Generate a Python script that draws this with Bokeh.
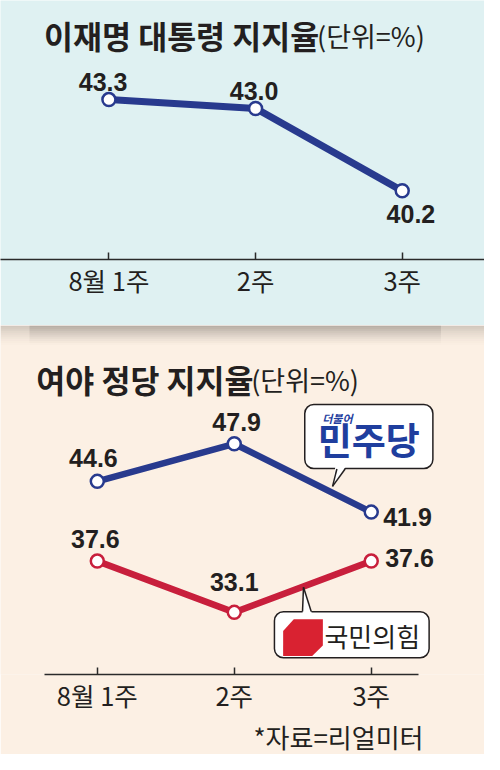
from bokeh.plotting import figure
from bokeh.layouts import column
from bokeh.models import Label, FixedTicker, ColumnDataSource, Range1d, Title
from bokeh.core.properties import value
from bokeh.embed import file_html
from bokeh.resources import INLINE

# ---------------- data ----------------
weeks = ["8월 1주", "2주", "3주"]
president = [43.3, 43.0, 40.2]
dem = [44.6, 47.9, 41.9]
ppp = [37.6, 33.1, 37.6]

title_top = "이재명 대통령 지지율"
title_bottom = "여야 정당 지지율"
unit_text = "(단위=%)"
source_note = "*자료=리얼미터"
dem_prefix = "더불어"
dem_name = "민주당"
ppp_name = "국민의힘"

# ---------------- style ----------------
TOP_BG = "#dff1f2"
BOT_BG = "#fcf0e4"
NAVY = "#283a8e"
DEM_BLUE = "#1f3e9e"
RED = "#c81f3c"
PPP_RED = "#d92231"
INK = "#231f20"
CJK = "Noto Sans CJK KR"
NUM = "Liberation Sans"

W, H = 484, 754
SX, SY = W / 500.0, H / 770.0
TOP_H = round(332 * SY)          # top panel ends at reference y=332
BOT_H = H - TOP_H
TOP_FRAME = round(264 * SY)      # axis line of top panel
BOT_FRAME = round((692 - 332) * SY)

xs = list(range(len(weeks)))


# reference-layout -> data helpers for annotation placement
def tx(px):
    return (px - 112) / 151.5


def ty(py):
    return 43.3 - (py - 101) / 30.0


def bx(px):
    return (px - 100) / 141.5


def by(py):
    return 47.9 - (py - 454) / 11.75


def style_fig(p, bg):
    p.background_fill_color = bg
    p.border_fill_color = bg
    p.outline_line_color = None
    p.xgrid.visible = False
    p.ygrid.visible = False
    ax = p.xaxis[0]
    ax.ticker = FixedTicker(ticks=xs)
    ax.major_label_overrides = {i: w for i, w in enumerate(weeks)}
    ax.axis_line_color = "#2a2a2a"
    ax.axis_line_width = 1.5
    ax.major_tick_line_color = "#2a2a2a"
    ax.major_tick_line_width = 1.5
    ax.major_tick_in = 7
    ax.major_tick_out = 0
    ax.minor_tick_line_color = None
    ax.major_label_text_font = CJK
    ax.major_label_text_font_size = "25.5px"
    ax.major_label_text_color = INK
    ax.major_label_standoff = 1


def value_labels(p, xs_, ys_, dx, dy):
    src = ColumnDataSource(dict(x=xs_, y=ys_, t=[f"{v:.1f}" for v in ys_],
                                dx=[d * SX for d in dx], dy=[d * SY for d in dy]))
    return p.text(x="x", y="y", text="t", x_offset="dx", y_offset="dy", source=src,
                  text_align="center", text_baseline="middle",
                  text_font=value(NUM), text_font_style="bold", text_font_size="25px",
                  text_color=INK)


def overlay(r):
    r.level = "overlay"
    return r


# ---------------- top panel ----------------
top = figure(width=W, height=TOP_H, x_range=Range1d(tx(0), tx(500)),
             y_range=Range1d(ty(264), ty(0)), output_backend="svg",
             toolbar_location=None, y_axis_location=None,
             min_border_left=0, min_border_right=0, min_border_top=0,
             min_border_bottom=TOP_H - TOP_FRAME)
style_fig(top, TOP_BG)

top.add_layout(Label(x=tx(45), y=ty(35), text=title_top, text_font=CJK,
                     text_font_style="bold", text_font_size="31.5px", text_color=INK,
                     text_align="left", text_baseline="middle"))
top.add_layout(Label(x=tx(327), y=ty(36), text=unit_text, text_font=CJK,
                     text_font_size="27px", text_color=INK,
                     text_align="left", text_baseline="middle"))

top.line(xs, president, line_width=7, line_color=NAVY)
top.scatter(xs, president, size=13, fill_color="white", line_color=NAVY, line_width=2.5)
value_labels(top, xs, president, [-6, -1.5, 9], [-18, -18, 24])

# ---------------- bottom panel ----------------
bot = figure(width=W, height=BOT_H, x_range=Range1d(bx(0), bx(500)),
             y_range=Range1d(by(692), by(332)), output_backend="svg",
             toolbar_location=None, y_axis_location=None,
             min_border_left=0, min_border_right=0, min_border_top=0,
             min_border_bottom=BOT_H - BOT_FRAME)
style_fig(bot, BOT_BG)
bot.xaxis[0].bounds = (bx(45), bx(432))

# shadow under the top panel
for i in range(10):
    y0, y1 = 332 + 2 * i, 334 + 2 * i
    a = 0.6 * (1 - i / 10.0) ** 1.5
    bot.quad(left=[bx(0)], right=[bx(500)], top=[by(y0)], bottom=[by(y1)],
             fill_color="#7d766f", fill_alpha=a * 0.55, line_color=None)
    bot.quad(left=[bx(30)], right=[bx(455)], top=[by(y0)], bottom=[by(y1)],
             fill_color="#7d766f", fill_alpha=a * 0.5, line_color=None)

bot.add_layout(Label(x=bx(37), y=by(387), text=title_bottom, text_font=CJK,
                     text_font_style="bold", text_font_size="31.5px", text_color=INK,
                     text_align="left", text_baseline="middle"))
bot.add_layout(Label(x=bx(259), y=by(388), text=unit_text, text_font=CJK,
                     text_font_size="27px", text_color=INK,
                     text_align="left", text_baseline="middle"))

bot.line(xs, dem, line_width=6.5, line_color=NAVY)
bot.scatter(xs, dem, size=13, fill_color="white", line_color=NAVY, line_width=2.5)
bot.line(xs, ppp, line_width=6.5, line_color=RED)
bot.scatter(xs, ppp, size=13, fill_color="white", line_color=RED, line_width=2.5)
value_labels(bot, xs, dem, [-4, 2.5, 37.5], [-24, -22, 4.5])
value_labels(bot, xs, ppp, [-2, 0, 39.5], [-23, -31, -3])

# callout: 민주당
bot.add_layout(Label(x=bx(380.5), y=by(446.5), text=dem_name, text_font=CJK,
                     text_font_style="bold", text_font_size="37px", text_color=DEM_BLUE,
                     text_align="center", text_baseline="middle",
                     background_fill_color="white", border_line_color=INK,
                     border_line_width=1.5, border_radius=9,
                     padding=dict(left=13, right=13, top=7, bottom=3)))
bot.add_layout(Label(x=bx(348), y=by(427), text=dem_prefix, text_font=CJK,
                     text_font_style="bold italic", text_font_size="11px",
                     text_color=DEM_BLUE, text_align="center", text_baseline="middle"))

# callout: 국민의힘
bot.add_layout(Label(x=bx(283), y=by(651), text=ppp_name, text_font=CJK,
                     text_font_size="26px", text_color=INK,
                     text_align="left", text_baseline="middle",
                     background_fill_color="white", border_line_color=INK,
                     border_line_width=1.5, border_radius=9,
                     padding=dict(left=50, right=9, top=5, bottom=4)))

# pointers and logo (drawn above the callout boxes)
overlay(bot.patch([bx(346), bx(357), bx(343)], [by(477), by(477), by(498)],
                  fill_color="white", line_color=None))
overlay(bot.multi_line([[bx(347.5), bx(343)], [bx(356), bx(343)]],
                       [[by(480), by(498)], [by(480), by(498)]],
                       line_color=INK, line_width=1.5))
overlay(bot.patch([bx(312), bx(322), bx(313)], [by(630), by(630), by(602)],
                  fill_color="white", line_color=None))
overlay(bot.multi_line([[bx(312), bx(313)], [bx(321), bx(313)]],
                       [[by(627), by(602)], [by(627), by(602)]],
                       line_color=INK, line_width=1.5))
overlay(bot.patch([bx(292), bx(303), bx(333), bx(333), bx(322), bx(292)],
                  [by(647), by(635), by(635), by(662), by(673), by(673)],
                  fill_color=PPP_RED, line_color=None))

# source note below the axis
bot.add_layout(Title(text=source_note, align="right", offset=61, standoff=0,
                     text_font=CJK, text_font_style="normal", text_font_size="26px",
                     text_color=INK), "below")

layout = column(top, bot, spacing=0)
open("out.html", "w", encoding="utf-8").write(file_html(layout, INLINE))
